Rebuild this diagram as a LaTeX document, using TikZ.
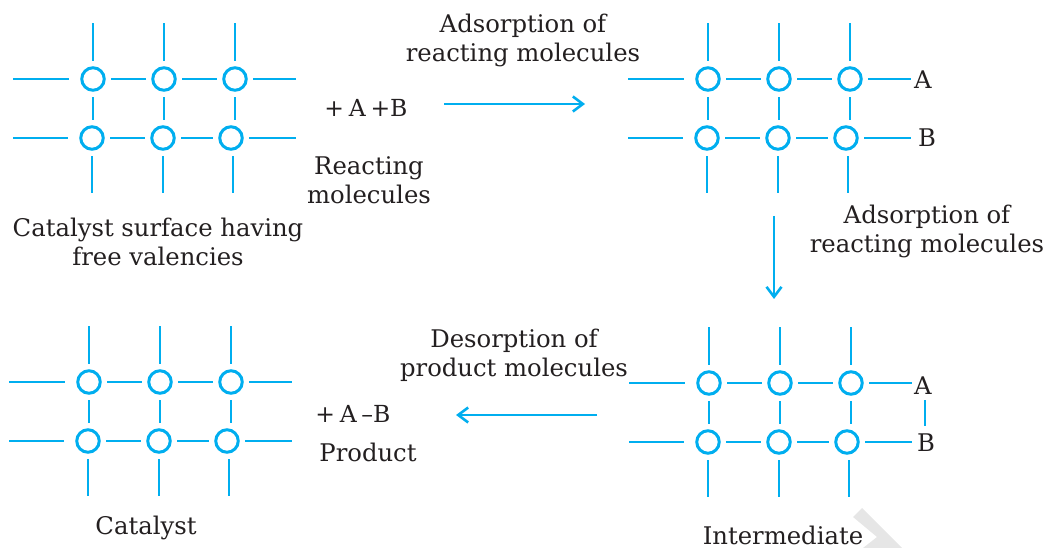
\documentclass[tikz,border=0pt]{standalone}
\usepackage{fontspec}
\setmainfont{DejaVu Serif}
\usetikzlibrary{arrows.meta}
\definecolor{bondblue}{HTML}{00AEEF}
\definecolor{inkblack}{HTML}{231F20}
\definecolor{markgrey}{HTML}{E6E6E6}
\tikzset{
	atom/.style={circle,draw=bondblue,line width=3pt,minimum size=22.5pt,inner sep=0pt,outer sep=6.8pt},
	bond/.style={draw=bondblue,line width=2.95pt},
	flow/.style={draw=bondblue,line width=2.4pt,-{Straight Barb[length=10pt,width=15pt,line width=2.6pt]}},
	tag/.style={text=inkblack,font=\fontsize{24.3}{29}\selectfont,align=center,inner sep=0pt},
	sumtag/.style={tag,font=\fontsize{23.5}{29}\selectfont}
}
% one catalyst surface, #1 = prefix of names, #2 = offset
\newcommand{\surface}[2]{
	\begin{scope}[shift={(#2)}]
		\node[atom] (#1a) at (93,79) {};
		\node[atom] (#1b) at (164,79) {};
		\node[atom] (#1c) at (235,79) {};
		\node[atom] (#1d) at (92,138) {};
		\node[atom] (#1e) at (163,138) {};
		\node[atom] (#1f) at (231,138) {};
		\coordinate (#1ta) at (93,23);
		\coordinate (#1tb) at (164,23);
		\coordinate (#1tc) at (235,23);
		\coordinate (#1bd) at (92,193);
		\coordinate (#1be) at (163,193);
		\coordinate (#1bf) at (233,193);
		\coordinate (#1la) at (13,79);
		\coordinate (#1ld) at (13,138);
		\coordinate (#1rc) at (296,79);
		\coordinate (#1rf) at (296,138);
	\end{scope}
	\draw[bond] (#1a.north) -- (#1ta);
	\draw[bond] (#1b.north) -- (#1tb);
	\draw[bond] (#1c.north) -- (#1tc);
	\draw[bond] (#1d.south) -- (#1bd);
	\draw[bond] (#1e.south) -- (#1be);
	\draw[bond] (#1f.south -| #1bf) -- (#1bf);
	\draw[bond,shorten >=6pt] (#1la) -- (#1a.west);
	\draw[bond,shorten >=6pt] (#1ld) -- (#1d.west);
	\draw[bond] (#1c.east) -- (#1rc);
	\draw[bond] (#1f.east) -- (#1rf);
	\draw[bond] (#1a) -- (#1b);
	\draw[bond] (#1b) -- (#1c);
	\draw[bond] (#1d) -- (#1e);
	\draw[bond] (#1e) -- (#1f);
	\draw[bond] (#1a.south) -- (#1a.south |- #1d.north);
	\draw[bond] (#1b.south) -- (#1b.south |- #1e.north);
	\draw[bond] (#1c.south) -- (#1c.south |- #1f.north);
}
\begin{document}
\begin{tikzpicture}[x=1pt,y=-1pt]
	\useasboundingbox (0,0) rectangle (1045,548);
	% watermark corner
	\fill[markgrey] (853,517) -- (862,508) -- (902,548) -- (863,548) -- (877,537) -- cycle;

	\surface{p}{0,0}
	\surface{q}{615,0}
	\surface{r}{616,304}
	\surface{s}{-4,303}

	\node[tag] (ta) at (923,80) {A};
	\node[tag] (tb) at (927,138) {B};
	\node[tag] (ia) at (923,386) {A};
	\node[tag] (ib) at (926,443) {B};
	\coordinate (ab1) at (925,400);
	\coordinate (ab2) at (925,426);
	\draw[bond] (ab1) -- (ab2);

	\node[tag] (free) at (158,242) {Catalyst surface having\\free valencies};
	\node[tag] (react) at (369,180) {Reacting\\molecules};
	\node[sumtag] (plusab) at (366,108) {+\hspace{.2em}A\hspace{.2em}+B};
	\node[tag] (adsa) at (523,40) {Adsorption of\\reacting molecules};
	\node[tag] (adsb) at (927,231) {Adsorption of\\reacting molecules};
	\node[tag] (desb) at (514,355) {Desorption of\\product molecules};
	\node[sumtag] (plusp) at (353,414) {+\hspace{.2em}A\hspace{.2em}--B};
	\node[tag] (prod) at (368,452) {Product};
	\node[tag] (cat) at (146,528) {Catalyst};
	\node[tag] (inter) at (783,535) {Intermediate};

	\coordinate (f1) at (444,104);
	\coordinate (f2) at (585,104);
	\coordinate (f3) at (774,216);
	\coordinate (f4) at (774,299);
	\coordinate (f5) at (597,415);
	\coordinate (f6) at (456,415);
	\draw[flow] (f1) -- (f2);
	\draw[flow] (f3) -- (f4);
	\draw[flow] (f5) -- (f6);
\end{tikzpicture}
\end{document}
